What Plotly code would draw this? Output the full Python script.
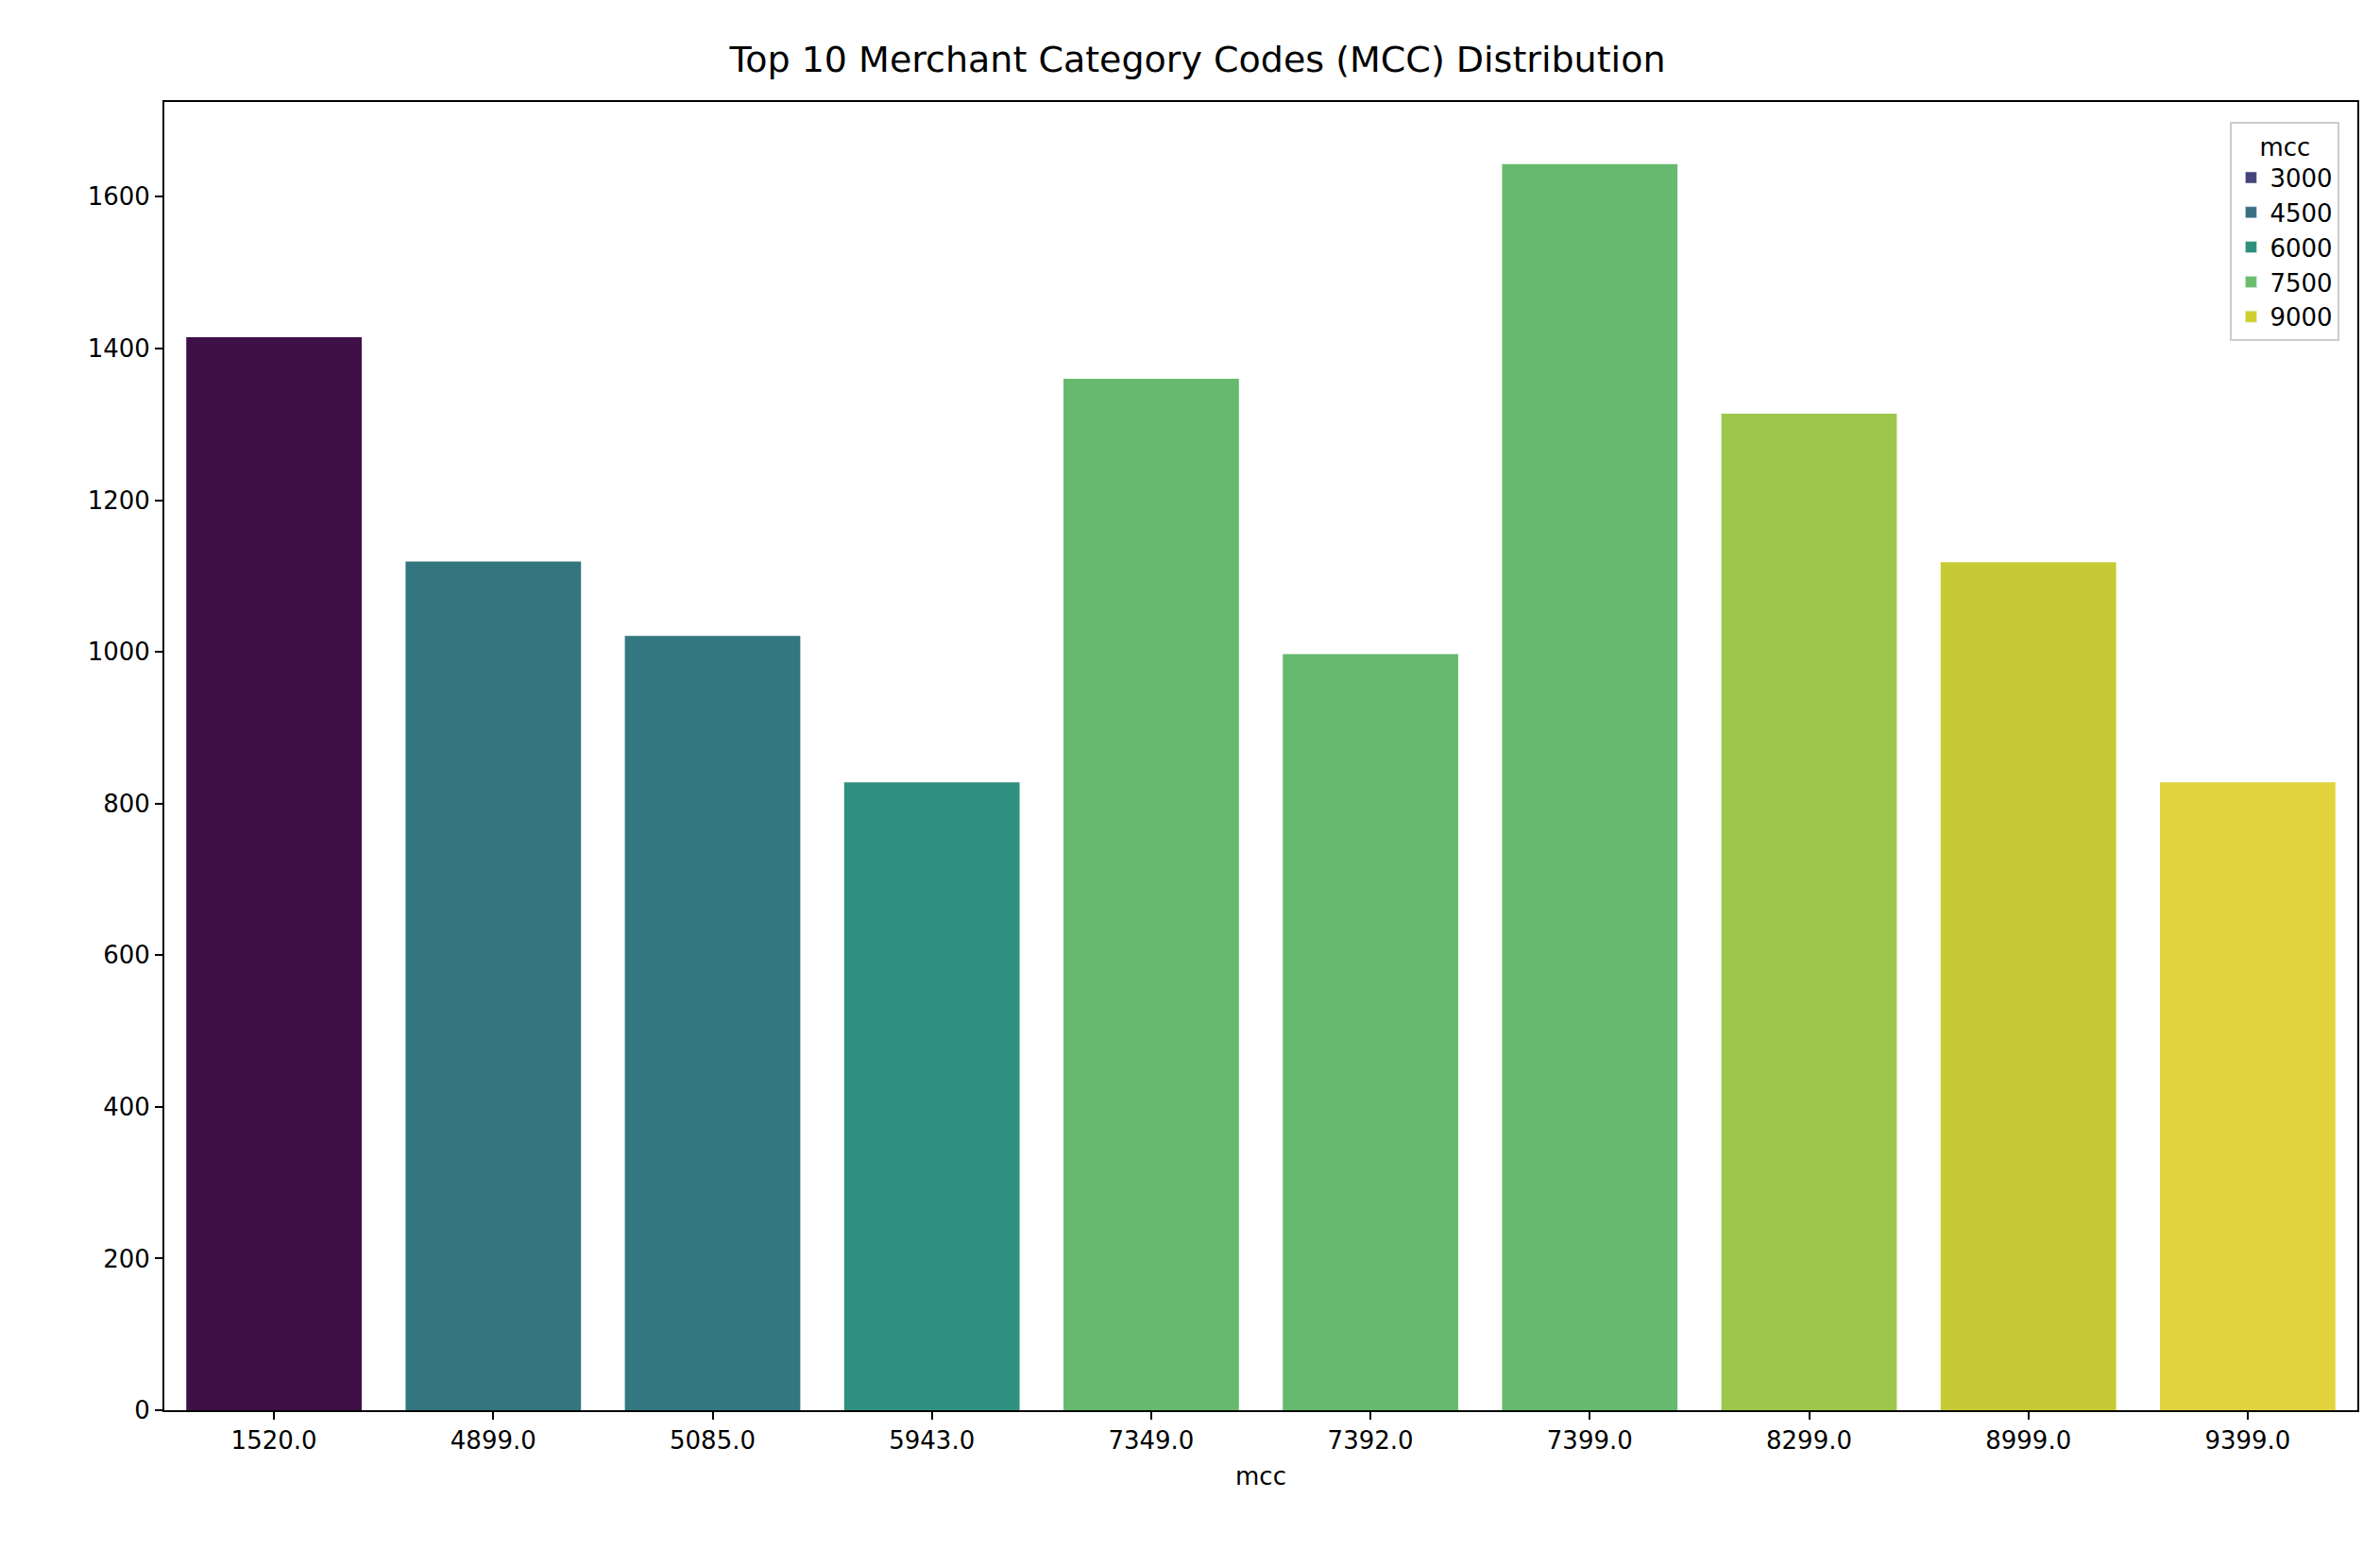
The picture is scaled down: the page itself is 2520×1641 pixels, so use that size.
import plotly.graph_objects as go

mcc_labels = ["1520.0","4899.0","5085.0","5943.0","7349.0","7392.0","7399.0","8299.0","8999.0","9399.0"]
counts = [1415, 1119, 1021, 828, 1360, 997, 1643, 1314, 1118, 828]
bar_colors = ["#3f0f48","#34767f","#337780","#2f917f","#67b96f","#67b96f","#67b96f","#9dc64d","#c6ca35","#e1d33d"]
legend_labels = ["3000","4500","6000","7500","9000"]
legend_colors = ["#45437a","#3a6f82","#2e8f7d","#6cbd6e","#cfd02e"]

fig = go.Figure()
fig.add_trace(go.Bar(x=mcc_labels, y=counts, marker=dict(color=bar_colors, line=dict(width=0)),
                     width=0.8, showlegend=False))
for lab, col in zip(legend_labels, legend_colors):
    fig.add_trace(go.Bar(x=[None], y=[None], name=lab, marker_color=col))

axis_common = dict(showline=True, linecolor="black", linewidth=2, mirror=True, ticks="outside",
                   ticklen=8, tickwidth=2, tickcolor="black", showgrid=False, zeroline=False,
                   tickfont=dict(size=26, color="black"))
fig.update_layout(
    width=2520, height=1641, plot_bgcolor="white", paper_bgcolor="white",
    font=dict(family="DejaVu Sans", color="black"),
    margin=dict(l=166, r=32, t=100, b=156),
    title=dict(text="Top 10 Merchant Category Codes (MCC) Distribution", x=0.5, xanchor="center",
               y=0.975, yanchor="top", font=dict(size=38)),
    xaxis=dict(type="category", range=[-0.5, 9.5], title=dict(text="mcc", font=dict(size=26)), **axis_common),
    yaxis=dict(range=[0, 1725], dtick=200, **axis_common),
    legend=dict(title=dict(text="mcc", side="top center", font=dict(size=26)), x=0.992, y=0.985,
                xanchor="right", yanchor="top", bgcolor="rgba(255,255,255,0.8)",
                bordercolor="#cccccc", borderwidth=2, font=dict(size=26)),
    barmode="overlay",
)
fig.write_html("out.html")
